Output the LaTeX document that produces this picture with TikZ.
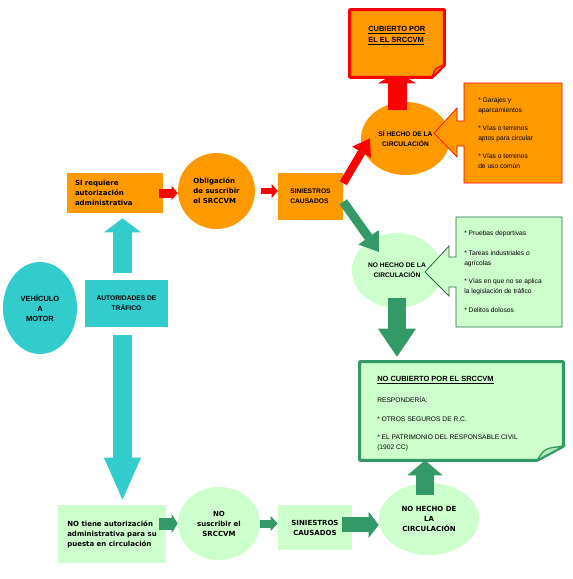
\documentclass[tikz,border=0pt]{standalone}
\usepackage{fontspec}
\setmainfont{Liberation Sans}
\newfontfamily\verdfont{DejaVu Sans}
\usepackage{tikz}
\usetikzlibrary{shapes.geometric,arrows.meta,calc}
\definecolor{naranja}{RGB}{255,153,0}
\definecolor{turq}{RGB}{51,204,204}
\definecolor{verdeclaro}{RGB}{204,255,204}
\definecolor{verde}{RGB}{51,153,102}
\definecolor{rojo}{RGB}{255,0,0}
\newcommand{\negrita}{\verdfont\bfseries\fontsize{5.25}{7.5}\selectfont}
\newcommand{\chica}{\fontsize{5}{7.5}\selectfont}
\newcommand{\chicaneg}{\bfseries\fontsize{5}{7.5}\selectfont}
\newcommand{\chicab}{\bfseries\fontsize{5.6}{7.5}\selectfont}
\tikzset{
  caja/.style={rectangle,inner sep=0pt,align=center},
  elip/.style={ellipse,inner sep=0pt,align=center},
  texto/.style={anchor=north west,inner sep=0pt,align=left,font=\chica},
  blk/.style args={#1/#2/#3}{line width=#1,-{Triangle[width=#2,length=#3,line width=0pt]}},
}

\begin{document}
\begin{tikzpicture}[x=0.75pt,y=-0.75pt]
        \path[use as bounding box,fill=white] (0,0) rectangle (572,579);
        \node (vehic) at (40,308) [elip,fill=turq,minimum width=55.5pt,minimum height=69pt,font=\chicab] {VEHÍCULO\\A\\MOTOR};
        \node (autor) at (126.5,303.5) [caja,fill=turq,minimum width=62.25pt,minimum height=35.25pt,font=\chicaneg] {AUTORIDADES DE\\TRÁFICO};
        \node (sireq) at (115,193) [caja,fill=naranja,minimum width=72pt,minimum height=30pt,text width=60pt,inner xsep=6pt,align=left,font=\negrita] {SI requiere\\autorización\\administrativa};
        \node (oblig) at (216.5,191) [elip,fill=naranja,minimum width=57.75pt,minimum height=57pt,align=left,font=\negrita] {Obligación\\de suscribir\\el SRCCVM};
        \node (sinie) at (310.5,196.5) [caja,fill=naranja,minimum width=48.75pt,minimum height=35.25pt,align=left,font=\chicaneg] {SINIESTROS\\CAUSADOS};
        \node (sihecho) at (405.5,138.5) [elip,fill=naranja,minimum width=66.75pt,minimum height=54.75pt,font=\chicaneg] {SÍ HECHO DE LA\\CIRCULACIÓN};
        \node (nohecho1) at (397,270.5) [elip,fill=verdeclaro,minimum width=67.5pt,minimum height=56.25pt,font=\chicaneg] {NO HECHO DE LA\\CIRCULACIÓN};
        \node (notiene) at (112,534) [caja,fill=verdeclaro,minimum width=81pt,minimum height=43.5pt,align=left,font=\negrita] {NO tiene autorización\\administrativa para su\\puesta en circulación};
        \node (nosusc) at (219,523.5) [elip,fill=verdeclaro,minimum width=61.5pt,minimum height=54.75pt,font=\negrita] {NO\\suscribir el\\SRCCVM};
        \node (sinie2) at (315,527.5) [caja,fill=verdeclaro,minimum width=55.5pt,minimum height=33.75pt,font=\negrita] {SINIESTROS\\CAUSADOS};
        \node (nohecho2) at (429,519) [elip,fill=verdeclaro,minimum width=75pt,minimum height=54pt,font=\negrita] {NO HECHO DE\\LA\\CIRCULACIÓN};
        \path node (cubier) at (397,43.5) [caja,minimum width=70.5pt,minimum height=50.25pt] {};
        \path node (nocub) at (461.5,411) [caja,minimum width=152.25pt,minimum height=73.5pt] {};

        \draw [blk=14.25pt/27.75pt/10.5pt,draw=turq,shorten <=5.25pt,shorten >=3.75pt] ([xshift=-3pt]autor.north) -- ([xshift=-3pt]autor.north |- sireq.south);
        \draw [blk=14.25pt/27.75pt/31.5pt,draw=turq,shorten <=6pt,shorten >=3.75pt] ([xshift=-3pt]autor.south) -- ([xshift=-3pt]autor.south |- notiene.north);
        \draw [blk=6.75pt/10.5pt/4.5pt,draw=rojo,shorten <=-3pt] (sireq.east) -- (sireq.east -| oblig.west);
        \draw [blk=4.5pt/10.5pt/4.5pt,draw=rojo,shorten <=4.5pt] (oblig.east) -- (oblig.east -| sinie.west);
        \draw [blk=6pt/16.5pt/12pt,draw=rojo] ([yshift=10pt]sinie.east) -- ([xshift=6.75pt]sihecho.west);
        \draw [blk=6.75pt/18.75pt/13.5pt,draw=verde] ([yshift=-4pt]sinie.east) -- ([xshift=-13.5pt,yshift=13.9pt]nohecho1.center);
        \draw [blk=14.25pt/28.5pt/8.25pt,draw=rojo,shorten <=-6pt,shorten >=-3.75pt] (cubier.south |- sihecho.north) -- (cubier.south);
        \draw [blk=13.5pt/28.5pt/21pt,draw=verde,shorten <=-7.5pt,shorten >=3.75pt] (nohecho1.south) -- (nohecho1.south |- nocub.north);
        \draw [blk=13.5pt/26.25pt/11.25pt,draw=verde,shorten <=-9pt] ([xshift=-3pt]nohecho2.north) -- ([xshift=-3pt]nohecho2.north |- nocub.south);
        \draw [blk=9pt/14.25pt/4.5pt,draw=verde,shorten <=-5.25pt] (notiene.east |- nosusc.west) -- (nosusc.west);
        \draw [blk=6pt/11.25pt/5.25pt,draw=verde] (nosusc.east) -- (nosusc.east -| sinie2.west);
        \draw [blk=11.25pt/19.5pt/7.5pt,draw=verde,shorten <=-7.5pt] ([yshift=2pt]sinie2.east) -- ([yshift=2pt]sinie2.east -| nohecho2.west);

        \filldraw [fill=naranja,draw=rojo,line width=2.25pt,line join=round] (cubier.north west) -- (cubier.north east) -- ([yshift=9pt]cubier.south east) -- ([xshift=-9pt]cubier.south east) -- (cubier.south west) -- cycle;
        \filldraw [fill=naranja!85!black,draw=rojo,line width=1pt] ([yshift=9pt]cubier.south east) .. controls ([xshift=-7pt,yshift=7pt]cubier.south east) .. ([xshift=-9pt]cubier.south east) -- cycle;
        \filldraw [fill=verdeclaro,draw=verde,line width=2.25pt,line join=round] (nocub.north west) -- (nocub.north east) -- ([yshift=10.5pt]nocub.south east) -- ([xshift=-19.5pt]nocub.south east) -- (nocub.south west) -- cycle;
        \filldraw [fill=verdeclaro!80!verde,draw=verde,line width=1pt] ([yshift=10.5pt]nocub.south east) .. controls ([xshift=-14pt,yshift=9pt]nocub.south east) .. ([xshift=-19.5pt]nocub.south east) -- cycle;
        \filldraw [fill=naranja,draw=rojo,line width=0.5pt] (464,83) -- (562,83) -- (562,183) -- (464,183) -- (464,146) -- (457,146) -- (457,157) -- (434,133) -- (457,108) -- (457,121) -- (464,121) -- cycle;
        \filldraw [fill=verdeclaro,draw=verde!70!black,line width=0.6pt] (456,217) -- (562,217) -- (562,327) -- (456,327) -- (456,287) -- (449,287) -- (449,296) -- (425,272) -- (449,246) -- (449,257) -- (456,257) -- cycle;

        \node (cubtxt) at (368,26.3) [texto,font=\chicab] {\underline{CUBIERTO POR}\\[0.75pt]\underline{EL EL SRCCVM}};
        \node (garajtxt) at (478,97.6) [texto] {* Garajes y\\aparcamientos\\[6pt]* Vías o terrenos\\aptos para circular\\[6pt]* Vías o terrenos\\de uso común};
        \node (pruebtxt) at (464,230.6) [texto] {* Pruebas deportivas\\[7.5pt]* Tareas industriales o\\agrícolas\\[6pt]* Vías en que no se aplica\\la legislación de tráfico\\[6.75pt]* Delitos dolosos};
        \node (nocubtxt) at (377,376.3) [texto] {{\chicab\underline{NO CUBIERTO POR EL SRCCVM}}\\[8.4pt]RESPONDERÍA:\\[6.75pt]* OTROS SEGUROS DE R.C.\\[6pt]* EL PATRIMONIO DEL RESPONSABLE CIVIL\\(1902 CC)};
      \end{tikzpicture}
\end{document}
